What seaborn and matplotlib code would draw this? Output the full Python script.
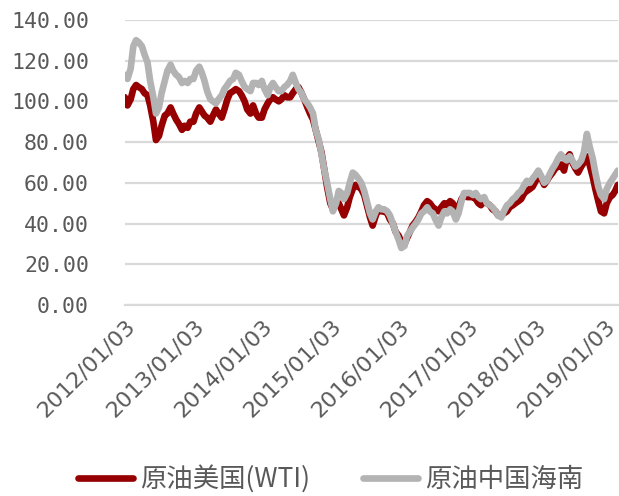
import matplotlib
matplotlib.use("Agg")
import matplotlib.pyplot as plt
import matplotlib.dates as mdates
import pandas as pd
import seaborn as sns

# Semi-monthly sampling dates (1st and 15th of each month)
dates = pd.date_range("2012-01-01", "2019-03-15", freq="SMS")

# WTI crude price, USD/bbl
wti_2012 = [102, 98, 101, 106, 108, 107, 106, 104, 103, 98, 90, 81, 83, 88, 93, 94, 97, 94, 91, 89, 86, 88, 87, 90]
wti_2013 = [90, 94, 97, 95, 93, 92, 90, 93, 96, 94, 92, 96, 101, 104, 105, 106, 105, 103, 100, 96, 94, 98, 94, 92]
wti_2014 = [92, 96, 99, 101, 102, 101, 100, 101, 103, 102, 102, 104, 106, 107, 104, 101, 97, 94, 91, 86, 80, 75, 66, 58]
wti_2015 = [50, 47, 50, 50, 47, 44, 48, 53, 57, 59, 58, 57, 54, 49, 43, 39, 44, 47, 46, 46, 45, 42, 40, 36]
wti_2016 = [34, 31, 30, 33, 36, 39, 41, 43, 46, 49, 51, 50, 48, 47, 46, 48, 50, 49, 51, 50, 47, 48, 52, 54]
wti_2017 = [53, 53, 53, 52, 50, 49, 51, 50, 49, 47, 46, 44, 44, 45, 46, 48, 49, 50, 51, 52, 55, 56, 57, 58]
wti_2018 = [61, 63, 62, 59, 61, 63, 65, 67, 68, 69, 66, 72, 74, 70, 67, 65, 68, 70, 73, 69, 63, 57, 51, 46]
wti_2019 = [45, 50, 53, 54, 56, 59]

# Hainan (China) crude price, USD/bbl
hainan_2012 = [113, 111, 116, 127, 130, 129, 127, 123, 119, 110, 102, 94, 97, 104, 110, 115, 118, 115, 113, 112, 109, 110, 109, 111]
hainan_2013 = [111, 115, 117, 114, 110, 105, 101, 100, 99, 101, 103, 106, 108, 110, 111, 114, 113, 110, 107, 106, 105, 109, 109, 108]
hainan_2014 = [110, 106, 103, 107, 109, 107, 105, 105, 107, 108, 110, 113, 109, 106, 104, 101, 99, 97, 94, 86, 81, 74, 66, 60]
hainan_2015 = [52, 46, 50, 56, 55, 52, 55, 60, 65, 64, 62, 60, 56, 51, 45, 42, 46, 48, 47, 47, 46, 44, 40, 36]
hainan_2016 = [32, 28, 29, 34, 36, 38, 40, 42, 45, 46, 48, 46, 45, 42, 39, 43, 46, 45, 47, 46, 42, 45, 51, 55]
hainan_2017 = [55, 55, 54, 55, 53, 52, 53, 50, 49, 48, 46, 44, 43, 46, 49, 50, 52, 53, 55, 56, 59, 61, 60, 62]
hainan_2018 = [64, 66, 63, 60, 61, 64, 67, 69, 72, 74, 72, 71, 73, 71, 68, 69, 71, 75, 84, 78, 72, 65, 58, 54]
hainan_2019 = [52, 57, 60, 62, 64, 66]

series_names = ["原油美国(WTI)", "原油中国海南"]
series_colors = ["#960000", "#B3B3B3"]
tick_dates = ["2012-01-03", "2013-01-03", "2014-01-03", "2015-01-03",
              "2016-01-03", "2017-01-03", "2018-01-03", "2019-01-03"]
y_ticks = [0, 20, 40, 60, 80, 100, 120, 140]

wti = wti_2012 + wti_2013 + wti_2014 + wti_2015 + wti_2016 + wti_2017 + wti_2018 + wti_2019
hainan = (hainan_2012 + hainan_2013 + hainan_2014 + hainan_2015 + hainan_2016
          + hainan_2017 + hainan_2018 + hainan_2019)

df = pd.concat([
    pd.DataFrame({"date": dates, "price": wti, "series": series_names[0]}),
    pd.DataFrame({"date": dates, "price": hainan, "series": series_names[1]}),
])

sns.set_theme(style="white")
plt.rcParams["font.family"] = ["Noto Sans CJK SC", "DejaVu Sans"]

text_color = "#595959"
grid_color = "#D9D9D9"

fig = plt.figure(figsize=(6.19, 4.96), dpi=100)
ax = fig.add_axes([0.202, 0.385, 0.797, 0.575])

sns.lineplot(data=df, x="date", y="price", hue="series", hue_order=series_names,
             palette=dict(zip(series_names, series_colors)), linewidth=4.8,
             legend=False, ax=ax, zorder=3)

ax.set_ylim(0, 140)
ax.set_yticks(y_ticks)
ax.set_yticklabels([f"{v:.2f}" for v in y_ticks], family="DejaVu Sans Mono",
                   fontsize=15.5, color=text_color)
ax.yaxis.grid(True, color=grid_color, linewidth=1.6, zorder=0)
ax.tick_params(axis="y", length=0, pad=26)

ax.set_xlim(pd.Timestamp("2012-01-02"), pd.Timestamp("2019-03-18"))
ax.set_xticks(pd.to_datetime(tick_dates))
ax.xaxis.set_major_formatter(mdates.DateFormatter("%Y/%m/%d"))
ax.tick_params(axis="x", length=6, width=1.4, color=grid_color, direction="out",
               pad=2, labelsize=16, labelcolor=text_color)
for lab in ax.get_xticklabels():
    lab.set_rotation(45)
    lab.set_horizontalalignment("right")
    lab.set_rotation_mode("anchor")
    lab.set_family("DejaVu Sans")

ax.set_xlabel("")
ax.set_ylabel("")
for side in ["left", "right", "top"]:
    ax.spines[side].set_visible(False)
ax.spines["bottom"].set_color(grid_color)
ax.spines["bottom"].set_linewidth(1.6)

handles = [plt.Line2D([], [], color=c, linewidth=4.8, solid_capstyle="round")
           for c in series_colors]
fig.legend(handles, series_names, loc="center", bbox_to_anchor=(0.534, 0.034),
           ncol=2, frameon=False, fontsize=19, handlelength=2.1,
           handletextpad=0.25, columnspacing=2.0, labelcolor=text_color,
           borderpad=0.1)

fig.savefig("out.png", dpi=100)
